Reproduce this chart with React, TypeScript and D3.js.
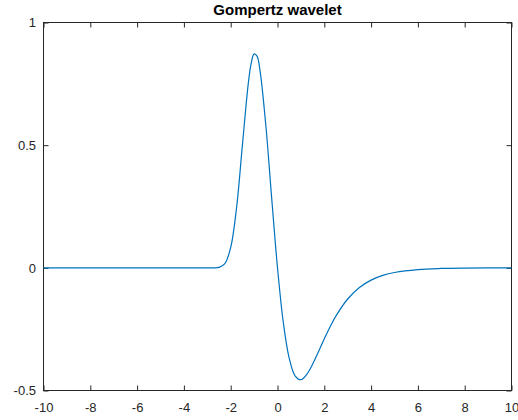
import * as d3 from "d3";
import { useEffect, useRef } from "react";

// curve samples (x, wavelet value)
const xs = [
  -10, -3, -2.75, -2.5, -2.25, -2, -1.75, -1.5, -1.25, -1.125, -1, -0.875, -0.75, -0.5,
  -0.25, 0, 0.25, 0.5, 0.75, 1, 1.25, 1.5, 1.75, 2, 2.25, 2.5, 3, 3.5, 4, 4.5, 5, 6, 7,
  8, 10,
];
const ys = [
  0, 0, 0.0001, 0.002, 0.017, 0.083, 0.245, 0.5, 0.75, 0.833, 0.872, 0.863, 0.806, 0.582,
  0.286, 0, -0.224, -0.368, -0.44, -0.456, -0.434, -0.393, -0.342, -0.289, -0.24, -0.196,
  -0.127, -0.08, -0.05, -0.031, -0.019, -0.007, -0.0026, -0.001, -0.0001,
];
const xTicks = [-10, -8, -6, -4, -2, 0, 2, 4, 6, 8, 10];
const yTicks = [-0.5, 0, 0.5, 1];
const title = "Gompertz wavelet";

export default function App() {
  const ref = useRef<SVGSVGElement>(null);

  useEffect(() => {
    const svg = d3.select(ref.current);
    svg.selectAll("*").remove();

    const left = 43.5;
    const right = 511.5;
    const top = 22.5;
    const bottom = 390.5;
    const font = "'Liberation Sans', Arial, Helvetica, sans-serif";
    const axisColor = "#262626";
    // plain hyphen for negatives, like the reference
    const fmt = (d: d3.NumberValue) => String(+d);

    const x = d3.scaleLinear().domain([-10, 10]).range([left, right]);
    const y = d3.scaleLinear().domain([-0.5, 1]).range([bottom, top]);

    const styleAxis = (g: d3.Selection<SVGGElement, unknown, null, undefined>) => {
      g.select(".domain").remove();
      g.selectAll(".tick line").attr("stroke", axisColor).attr("stroke-width", 1);
      g.selectAll(".tick text")
        .attr("fill", axisColor)
        .attr("font-family", font)
        .attr("font-size", 13);
    };

    // bottom and left with labels, top and right mirrored
    svg.append("g")
      .attr("transform", `translate(0,${bottom})`)
      .call(d3.axisBottom(x).tickValues(xTicks).tickSizeInner(-5).tickSizeOuter(0).tickPadding(12).tickFormat(fmt))
      .call(styleAxis);
    svg.append("g")
      .attr("transform", `translate(${left},0)`)
      .call(d3.axisLeft(y).tickValues(yTicks).tickSizeInner(-5).tickSizeOuter(0).tickPadding(7.5).tickFormat(fmt))
      .call(styleAxis);
    svg.append("g")
      .attr("transform", `translate(0,${top})`)
      .call(d3.axisTop(x).tickValues(xTicks).tickSizeInner(-5).tickSizeOuter(0).tickFormat(() => ""))
      .call(styleAxis);
    svg.append("g")
      .attr("transform", `translate(${right},0)`)
      .call(d3.axisRight(y).tickValues(yTicks).tickSizeInner(-5).tickSizeOuter(0).tickFormat(() => ""))
      .call(styleAxis);

    // box
    svg.append("rect")
      .attr("x", left)
      .attr("y", top)
      .attr("width", right - left)
      .attr("height", bottom - top)
      .attr("fill", "none")
      .attr("stroke", axisColor)
      .attr("stroke-width", 1);

    // wavelet line
    const line = d3
      .line<number>()
      .x((_, i) => x(xs[i]))
      .y((d) => y(d))
      .curve(d3.curveCatmullRom.alpha(0.5));
    svg.append("path")
      .datum(ys)
      .attr("d", line)
      .attr("fill", "none")
      .attr("stroke", "#0072BD")
      .attr("stroke-width", 1.2);

    svg.append("text")
      .attr("x", (left + right) / 2)
      .attr("y", 15)
      .attr("text-anchor", "middle")
      .attr("font-family", font)
      .attr("font-size", 15)
      .attr("font-weight", "bold")
      .attr("fill", "#000")
      .text(title);
  }, []);

  return (
    <svg
      ref={ref}
      width={518}
      height={420}
      style={{ position: "absolute", left: 0, top: 0, background: "#fff" }}
    ></svg>
  );
}
